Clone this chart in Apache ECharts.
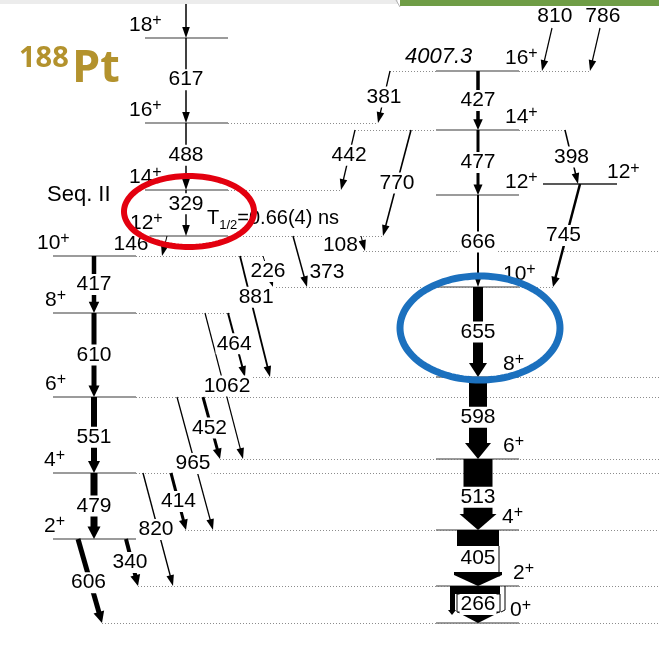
<!DOCTYPE html>
<html>
<head>
<meta charset="utf-8">
<script src="https://cdn.jsdelivr.net/npm/echarts@6/dist/echarts.min.js"></script>
<style>
html,body{margin:0;padding:0;background:#fff;}
#chart{width:659px;height:650px;}
</style>
</head>
<body>
<div id="chart"></div>
<script>
// ===================== DATA =====================
// Ground-state band: spins, level heights (scheme units, downward), gamma energies, intensities
const gsbSpins      = ['0', '2', '4', '6', '8', '10', '12', '14', '16'];
const gsbLevels     = [623, 586, 530, 459, 377, 287, 195, 130, 71];
const gsbGammas     = ['266', '405', '513', '598', '655', '666', '477', '427'];
const gsbIntensity  = [50, 42, 29, 18, 10, 2, 3, 3.5];
const gsbConversion = [1, 1, 0, 0, 0, 0, 0, 0];
const gsbTopEnergy  = '4007.3';
const gsbFeeding    = ['810', '786'];

// Seq. II lower part
const seqLoSpins     = ['2', '4', '6', '8', '10'];
const seqLoLevels    = [539, 473, 397, 313, 256];
const seqLoGammas    = ['479', '551', '610', '417'];
const seqLoIntensity = [7, 6, 5, 4.5];

// Seq. II upper part
const seqHiSpins     = ['12', '14', '16', '18'];
const seqHiLevels    = [236, 190, 123, 38];
const seqHiGammas    = ['329', '488', '617'];
const seqHiIntensity = [1.5, 1.5, 1.5];
const halfLifeText   = '0.66(4) ns';

// Side level and an extra level reached by the 108 keV line
const sideSpin  = '12';
const sideLevel = 184;
const extraLevel = 251;

// Linking transitions: energy, start level, end level, intensity
const linkGammas    = ['606','340','820','414','965','452','1062','464','881','226','373','146','108','381','442','770','398','745'];
const linkFrom      = [539, 539, 473, 473, 397, 397, 313, 313, 256, 256, 236, 236, 236, 71, 130, 130, 130, 184];
const linkTo        = [623, 586, 586, 530, 530, 459, 459, 377, 377, 287, 287, 256, 251, 123, 190, 236, 184, 287];
const linkIntensity = [5, 4, 1.4, 3, 1.3, 3, 1.2, 2, 1.8, 1, 1.5, 1, 1, 1.3, 1.3, 1.6, 1.5, 2.5];

// ===================== LAYOUT =====================
const FONT = '"Liberation Sans", Arial, Helvetica, sans-serif';
const LBL = 21;
const gsbCol = {x1: 436, x2: 519, xc: 478};
const loCol  = {x1: 53,  x2: 136, xc: 94};
const hiCol  = {x1: 145, x2: 228, xc: 186};
const sideCol = {x1: 543, x2: 617};
const gsbLabT = [.5, .5, .54, .49, .5, .51, .5, .5];
const loLabT  = [.5, .53, .5, .5];
const hiLabT  = [.3, .48, .49];
const gsbSpinX = [510, 513, 502, 503, 503, 503, 505, 505, 505];
const loSpinX  = [44, 44, 45, 45, 37];
const hiSpinX  = [130, 129, 129, 129];
const linkX1   = [78,126,143,171,177,203,205,228,240,263,293,167,361,390,355,411,565,580];
const linkX2   = [102,138,173,186,213,220,243,245,270,273,307,162,365,378,341,383,578,553];
const linkLabT = [.52,.5,.5,.5,.5,.5,.5,.48,.34,.5,.71,.4,.6,.5,.42,.5,.5,.5];
const linkLabDx= [-2,-2,-2,0,-2,-2,3,-2,6,0,24,-34,-23,0,0,0,0,-3];
const feedX1 = [552, 600], feedX2 = [542, 590], feedY1 = 28;
const dotLevel = [seqHiLevels[2], seqHiLevels[1], seqHiLevels[0], seqLoLevels[4], seqLoLevels[3], seqLoLevels[2], seqLoLevels[1],
                  gsbLevels[8], gsbLevels[8], gsbLevels[7], gsbLevels[7], extraLevel, gsbLevels[5], gsbLevels[4], gsbLevels[3],
                  gsbLevels[2], gsbLevels[1], gsbLevels[0]];
const dotX1 = [228,228,228,136,136,136,136,390,519,355,519,363,273,253,220,185,138,102];
const dotX2 = [378,341,383,265,232,659,659,436,590,436,565,659,553,659,659,659,659,659];

// ===================== DRAWING HELPERS =====================
function P(api, x, y) { return api.coord([x, y]); }
function lineEl(a, b, w, color, dash) {
  const s = {stroke: color || '#000', lineWidth: w};
  if (dash) s.lineDash = dash;
  return {type: 'line', shape: {x1: a[0], y1: a[1], x2: b[0], y2: b[1]}, style: s};
}
function polyEl(pts, fill) { return {type: 'polygon', shape: {points: pts}, style: {fill: fill || '#000'}}; }
function rectEl(x, y, w, h, fill, stroke, lw) {
  const s = {fill: fill || '#000'};
  if (stroke) { s.stroke = stroke; s.lineWidth = lw || 1; }
  return {type: 'rect', shape: {x, y, width: w, height: h}, style: s};
}
function arrowEls(api, x1, y1, x2, y2, w) {
  const a = P(api, x1, y1), b = P(api, x2, y2);
  const dx = b[0] - a[0], dy = b[1] - a[1], L = Math.hypot(dx, dy);
  const ux = dx / L, uy = dy / L, nx = -uy, ny = ux;
  const thin = w <= 2.2;
  const hw = thin ? 3.8 : w / 2 + Math.min(4, Math.max(3, 0.4 * w));
  const hl = thin ? 11 : Math.max(10, Math.min(16, 0.5 * w + 9));
  const bx = b[0] - ux * hl, by = b[1] - uy * hl;
  const els = [];
  if (thin) els.push(lineEl(a, [bx + ux, by + uy], w));
  else {
    const h = w / 2;
    els.push(polyEl([[a[0] + nx * h, a[1] + ny * h], [bx + ux + nx * h, by + uy + ny * h],
                     [bx + ux - nx * h, by + uy - ny * h], [a[0] - nx * h, a[1] - ny * h]]));
  }
  els.push(polyEl([[b[0], b[1]], [bx + nx * hw, by + ny * hw], [bx - nx * hw, by - ny * hw]]));
  return els;
}
function conversionArrow(api, i, x, yTop, yBot, W) {
  const c = P(api, x, yTop), e = P(api, x, yBot);
  const cx = c[0], y1 = c[1], y2 = e[1], h = W / 2;
  if (i === 1) {
    return [
      rectEl(cx - h, y1, W, 16),
      lineEl([cx + h, y1 + 16], [cx + h, y2 - 12], 1),
      polyEl([[cx + h - 2.5, y2 - 13], [cx + h + 2.5, y2 - 13], [cx + h, y2 - 9]]),
      polyEl([[cx - h - 3, y2 - 14], [cx + h + 3, y2 - 14], [cx + h + 3, y2 - 11], [cx, y2], [cx - h - 3, y2 - 11]])
    ];
  }
  return [
    rectEl(cx - 21, y1 + 8, 43, y2 - y1 - 19, '#fff', '#000', 1),
    rectEl(cx - h - 3, y1, W, 8),
    rectEl(cx - h - 3, y1, 5, y2 - y1 - 12),
    polyEl([[cx - h - 5, y2 - 13], [cx - h + 3, y2 - 13], [cx - h - 1, y2 - 8]]),
    lineEl([cx + h + 2, y1], [cx + h + 2, y2 - 13], 1),
    lineEl([cx + h + 2, y2 - 13], [cx + h - 2, y2 - 11], 1),
    polyEl([[cx - 21, y2 - 11], [cx + 22, y2 - 11], [cx, y2]])
  ];
}
function labelEl(api, x, y, text, extra) {
  const p = P(api, x, y);
  return {type: 'text', style: Object.assign({x: p[0], y: p[1], text, fontSize: LBL, fontFamily: FONT, fill: '#000',
    align: 'center', verticalAlign: 'middle', backgroundColor: '#fff', padding: [0, 1]}, extra || {})};
}
function spinEl(api, x, y, sp) {
  const p = P(api, x, y);
  return {type: 'text', style: {x: p[0], y: p[1], text: '{a|' + sp + '}{s|+}', align: 'left', verticalAlign: 'middle',
    rich: {a: {fontSize: LBL, fontFamily: FONT, fill: '#000', lineHeight: 24},
           s: {fontSize: 16, fontFamily: FONT, fill: '#000', lineHeight: 16, verticalAlign: 'top'}}}};
}
function ellipseEl(api, cx, cy, rx, ry, color, lw) {
  const pts = [];
  for (let k = 0; k < 120; k++) {
    const a = k / 120 * 2 * Math.PI;
    pts.push(P(api, cx + rx * Math.cos(a), cy + ry * Math.sin(a)));
  }
  return {type: 'polygon', shape: {points: pts}, style: {fill: 'none', stroke: color, lineWidth: lw}};
}
function layer(z, build) {
  return {type: 'custom', coordinateSystem: 'cartesian2d', data: [[0, 0]], z, silent: true, animation: false, clip: false,
    renderItem: (params, api) => ({type: 'group', children: build(api)})};
}

// ===================== LAYERS =====================
const dottedLayer = layer(2, api => dotLevel.map((y, i) =>
  lineEl(P(api, dotX1[i], y + 0.5), P(api, dotX2[i], y + 0.5), 1, '#8c8c8c', [1, 2])));

const levelLayer = layer(3, api => {
  const els = [];
  gsbLevels.forEach(y => els.push(lineEl(P(api, gsbCol.x1, y), P(api, gsbCol.x2, y), 1.5, '#7a7a7a')));
  seqLoLevels.forEach(y => els.push(lineEl(P(api, loCol.x1, y), P(api, loCol.x2, y), 1.5, '#7a7a7a')));
  seqHiLevels.forEach((y, i) => els.push(lineEl(P(api, i === 0 ? hiCol.x1 + 2 : hiCol.x1, y), P(api, hiCol.x2, y), 1.5, '#7a7a7a')));
  els.push(lineEl(P(api, sideCol.x1, sideLevel), P(api, sideCol.x2, sideLevel), 1.3, '#222'));
  return els;
});

const arrowLayer = layer(4, api => {
  let els = [];
  gsbGammas.forEach((g, i) => {
    if (gsbConversion[i]) els = els.concat(conversionArrow(api, i, gsbCol.xc, gsbLevels[i + 1], gsbLevels[i], gsbIntensity[i]));
    else els = els.concat(arrowEls(api, gsbCol.xc, gsbLevels[i + 1], gsbCol.xc, gsbLevels[i], gsbIntensity[i]));
  });
  seqLoGammas.forEach((g, i) => { els = els.concat(arrowEls(api, loCol.xc, seqLoLevels[i + 1], loCol.xc, seqLoLevels[i], seqLoIntensity[i])); });
  seqHiGammas.forEach((g, i) => { els = els.concat(arrowEls(api, hiCol.xc, seqHiLevels[i + 1], hiCol.xc, seqHiLevels[i], seqHiIntensity[i])); });
  els = els.concat(arrowEls(api, hiCol.xc, -6, hiCol.xc, seqHiLevels[3], 1.5));
  linkGammas.forEach((g, i) => { els = els.concat(arrowEls(api, linkX1[i], linkFrom[i], linkX2[i], linkTo[i], linkIntensity[i])); });
  gsbFeeding.forEach((g, i) => { els = els.concat(arrowEls(api, feedX1[i], feedY1, feedX2[i], gsbLevels[8], 1.2)); });
  return els;
});

const labelLayer = layer(5, api => {
  const els = [];
  gsbGammas.forEach((g, i) => els.push(labelEl(api, gsbCol.xc, gsbLevels[i + 1] + (gsbLevels[i] - gsbLevels[i + 1]) * gsbLabT[i], g)));
  seqLoGammas.forEach((g, i) => els.push(labelEl(api, loCol.xc, seqLoLevels[i + 1] + (seqLoLevels[i] - seqLoLevels[i + 1]) * loLabT[i], g)));
  seqHiGammas.forEach((g, i) => els.push(labelEl(api, hiCol.xc, seqHiLevels[i + 1] + (seqHiLevels[i] - seqHiLevels[i + 1]) * hiLabT[i], g)));
  linkGammas.forEach((g, i) => {
    const t = linkLabT[i];
    els.push(labelEl(api, linkX1[i] + (linkX2[i] - linkX1[i]) * t + linkLabDx[i], linkFrom[i] + (linkTo[i] - linkFrom[i]) * t, g));
  });
  gsbFeeding.forEach((g, i) => {
    const t = -0.28;
    els.push(labelEl(api, feedX1[i] + (feedX2[i] - feedX1[i]) * t, feedY1 + (gsbLevels[8] - feedY1) * t, g, {backgroundColor: null}));
  });
  gsbSpins.forEach((s, i) => els.push(spinEl(api, gsbSpinX[i], gsbLevels[i] - 13, s)));
  seqLoSpins.forEach((s, i) => els.push(spinEl(api, loSpinX[i], seqLoLevels[i] - 13, s)));
  seqHiSpins.forEach((s, i) => els.push(spinEl(api, hiSpinX[i], seqHiLevels[i] - 13, s)));
  els.push(spinEl(api, 607, sideLevel - 11.5, sideSpin));
  const e = P(api, 405, gsbLevels[8] - 14);
  els.push({type: 'text', style: {x: e[0], y: e[1], text: gsbTopEnergy, fontSize: 22, fontStyle: 'italic', fontFamily: FONT, fill: '#000', align: 'left', verticalAlign: 'middle'}});
  const q = P(api, 47, 195);
  els.push({type: 'text', style: {x: q[0], y: q[1], text: 'Seq. II', fontSize: 22, fontFamily: FONT, fill: '#000', align: 'left', verticalAlign: 'middle'}});
  const h = P(api, 207, 218);
  els.push({type: 'text', style: {x: h[0], y: h[1], text: '{t|T}{u|1/2}{t|=' + halfLifeText + '}', align: 'left', verticalAlign: 'middle',
    rich: {t: {fontSize: 20, fontFamily: FONT, fill: '#000', lineHeight: 28},
           u: {fontSize: 13, fontFamily: FONT, fill: '#000', lineHeight: 13, verticalAlign: 'bottom'}}}});
  return els;
});

const annotationLayer = layer(6, api => {
  const els = [];
  const a = P(api, 0, 0), b = P(api, 398, 4);
  els.push(rectEl(a[0], a[1], b[0] - a[0], b[1] - a[1], '#ececec'));
  const g1 = P(api, 400, 0), g2 = P(api, 659, 6);
  els.push(rectEl(g1[0], g1[1], g2[0] - g1[0], g2[1] - g1[1], '#6f9d46'));
  els.push(lineEl(P(api, 396, 0), P(api, 400, 7), 1, '#b0b0b0'));
  const n = P(api, 19, 59), pt = P(api, 72, 69);
  els.push({type: 'text', style: {x: n[0], y: n[1], text: '188', fontSize: 29, fontWeight: 'bold', fontFamily: '"Open Sans", sans-serif', fill: '#b3922d', align: 'left', verticalAlign: 'middle'}});
  els.push({type: 'text', style: {x: pt[0], y: pt[1], text: 'Pt', fontSize: 45, fontWeight: 'bold', fontFamily: '"Open Sans", sans-serif', fill: '#b3922d', align: 'left', verticalAlign: 'middle'}});
  els.push(ellipseEl(api, 189, 211.5, 65, 35.5, '#e3000f', 6));
  els.push(ellipseEl(api, 480, 328, 80, 52, '#1b70be', 7));
  return els;
});

const chart = echarts.init(document.getElementById('chart'));
chart.setOption({
  animation: false,
  backgroundColor: '#fff',
  grid: {left: 0, right: 0, top: 0, bottom: 0},
  xAxis: {type: 'value', min: 0, max: 659, show: false},
  yAxis: {type: 'value', min: 0, max: 650, inverse: true, show: false},
  series: [dottedLayer, levelLayer, arrowLayer, labelLayer, annotationLayer]
});
</script>
</body>
</html>
